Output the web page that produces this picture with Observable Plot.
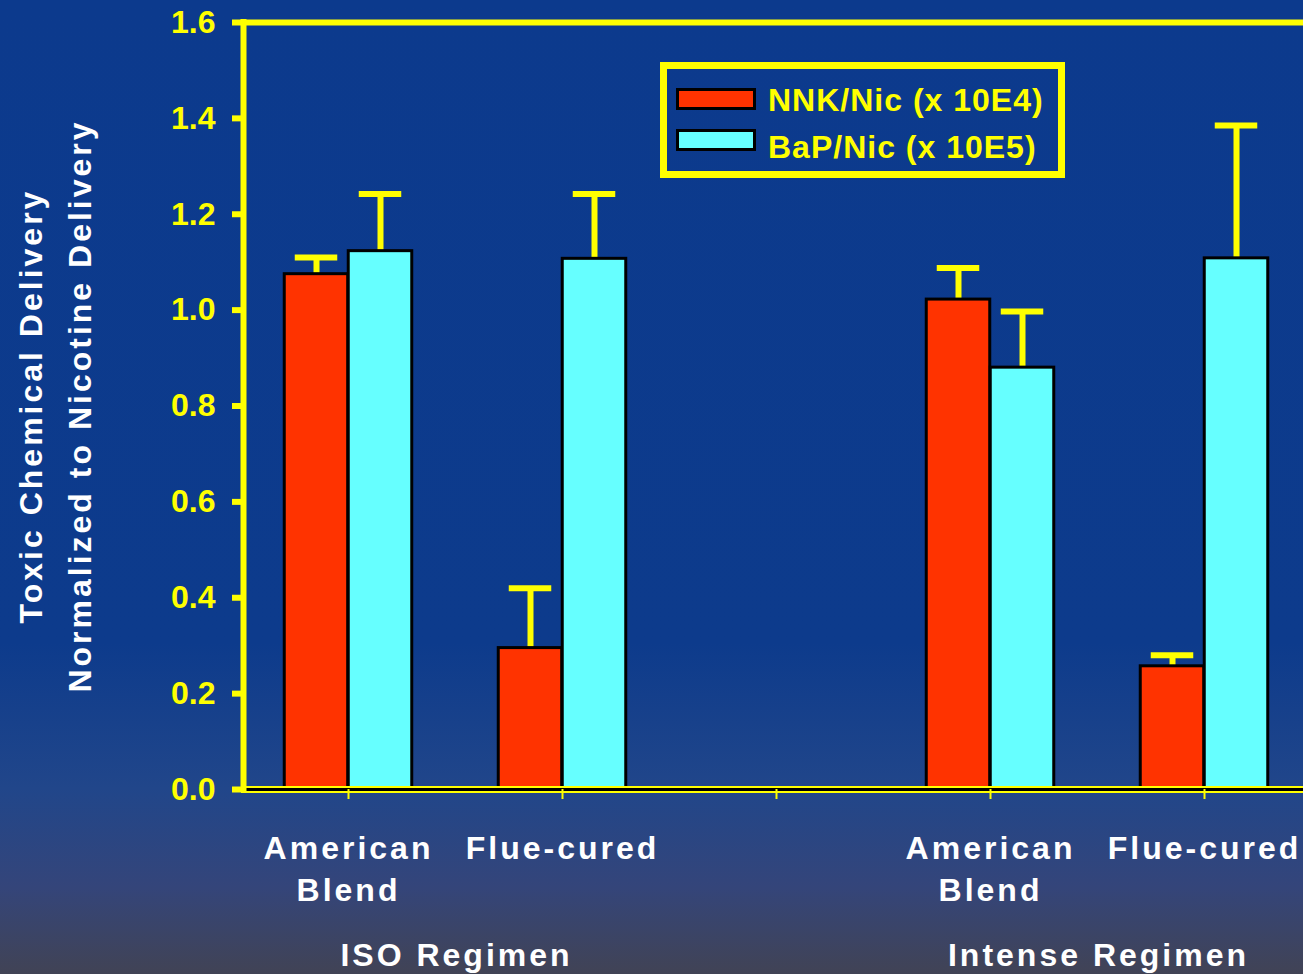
<!DOCTYPE html>
<html>
<head>
<meta charset="utf-8">
<script src="https://cdn.jsdelivr.net/npm/d3@7"></script>
<script src="https://cdn.jsdelivr.net/npm/@observablehq/plot@0.6"></script>
<style>
html, body { margin: 0; padding: 0; width: 1303px; height: 974px; overflow: hidden; }
body {
  background: linear-gradient(to bottom, #0c3a8d 0%, #0d3b8c 66%, #21468a 81%, #34457a 91%, #414355 100%);
  font-family: "Liberation Sans", Arial, sans-serif;
}
#chart { position: relative; width: 1303px; height: 974px; }
#chart svg { position: absolute; left: 0; top: 0; }
svg text { letter-spacing: 3px; }
g[aria-label="y-axis tick label"] text { letter-spacing: 0; }
.legend-box { position: absolute; left: 660px; top: 62px; width: 405px; height: 116px; box-sizing: border-box; border: 7px solid #ffff00; }
.legend-swatch { position: absolute; left: 676px; width: 80px; height: 22px; box-sizing: border-box; border: 3px solid #000; }
.legend-text { position: absolute; left: 768px; font-size: 32px; line-height: 32px; font-weight: bold; color: #ffff00; letter-spacing: 1px; white-space: pre; }
</style>
</head>
<body>
<div id="chart"></div>
<script>
// ---- data ----
const categoryKeys = ["iso-american", "iso-flue", "gap", "intense-american", "intense-flue"];
const categoryLabels = ["American\nBlend", "Flue-cured", "", "American\nBlend", "Flue-cured"];
const seriesNames = ["NNK/Nic (x 10E4)", "BaP/Nic (x 10E5)"];
const seriesColors = ["#ff3300", "#66ffff"];
const barCategories = ["iso-american", "iso-flue", "intense-american", "intense-flue"];
const nnkValues = [1.075, 0.295, 1.022, 0.257];
const nnkUpper = [1.110, 0.420, 1.088, 0.280];
const bapValues = [1.123, 1.107, 0.880, 1.108];
const bapUpper = [1.242, 1.242, 0.997, 1.385];
const groupNames = ["ISO Regimen", "Intense Regimen"];
const groupFirstCategory = ["iso-american", "intense-american"];
const yTicks = [0, 0.2, 0.4, 0.6, 0.8, 1.0, 1.2, 1.4, 1.6];
const yAxisTitle = "Toxic Chemical Delivery\nNormalized to Nicotine Delivery";

// ---- tables ----
const nnk = barCategories.map((c, i) => ({category: c, series: seriesNames[0], value: nnkValues[i], upper: nnkUpper[i]}));
const bap = barCategories.map((c, i) => ({category: c, series: seriesNames[1], value: bapValues[i], upper: bapUpper[i]}));
const groups = groupNames.map((g, i) => ({category: groupFirstCategory[i], name: g}));

const OFF = 32;
const bars = (data, dx) => Plot.barY(data, {x: "category", y: "value", fill: "series", stroke: "black", strokeWidth: 3, insetLeft: 75.25, insetRight: 75.25, dx});
const errLine = (data, dx) => Plot.ruleX(data, {x: "category", y1: "value", y2: "upper", stroke: "#ffff00", strokeWidth: 6, dx});
const errCap = (data, dx) => Plot.tickY(data, {x: "category", y: "upper", stroke: "#ffff00", strokeWidth: 6, insetLeft: 85.75, insetRight: 85.75, dx});

const plot = Plot.plot({
  width: 1303,
  height: 974,
  marginLeft: 241,
  marginRight: 0,
  marginTop: 22,
  marginBottom: 185,
  style: {background: "transparent", color: "white", fontFamily: "'Liberation Sans', Arial, sans-serif", fontWeight: "bold", overflow: "visible"},
  x: {domain: categoryKeys, range: [239, 1312], padding: 0},
  y: {domain: [0, 1.6]},
  color: {domain: seriesNames, range: seriesColors},
  marks: [
    errLine(nnk, -OFF), errLine(bap, OFF),
    errCap(nnk, -OFF), errCap(bap, OFF),
    bars(nnk, -OFF), bars(bap, OFF),
    Plot.ruleY([1.6], {stroke: "#ffff00", strokeWidth: 6}),
    Plot.ruleY([0], {stroke: "#ffff00", strokeWidth: 7}),
    Plot.ruleY([0], {stroke: "black", strokeWidth: 3}),
    Plot.ruleX([categoryKeys[0]], {x: d => d, y1: 0, y2: 1.6, dx: -105, stroke: "#ffff00", strokeWidth: 6, strokeLinecap: "square"}),
    Plot.axisY(yTicks, {tickSize: 9, tickPadding: 17, stroke: "#ffff00", strokeWidth: 6, fill: "#ffff00", fontSize: 32, fontWeight: "bold", tickFormat: d3.format(".1f"), label: null}),
    Plot.axisX({tickSize: 10, tickPadding: 30, stroke: "#ffff00", strokeWidth: 2, fill: "white", fontSize: 32, fontWeight: "bold", lineHeight: 1.3, tickFormat: k => categoryLabels[categoryKeys.indexOf(k)], label: null}),
    Plot.text(groups, {x: "category", text: "name", frameAnchor: "bottom", dx: 108, dy: 176, fill: "white", fontSize: 32, fontWeight: "bold"}),
    Plot.text([yAxisTitle], {text: d => d, frameAnchor: "left", textAnchor: "middle", rotate: -90, dx: -191, fill: "white", fontSize: 32, fontWeight: "bold", lineHeight: 1.56})
  ]
});
const chart = document.getElementById("chart");
chart.appendChild(plot);

// legend (HTML overlay)
const box = document.createElement("div");
box.className = "legend-box";
chart.appendChild(box);
const swatchTops = [88, 129];
const textTops = [84, 131];
seriesNames.forEach((name, i) => {
  const sw = document.createElement("div");
  sw.className = "legend-swatch";
  sw.style.top = swatchTops[i] + "px";
  sw.style.background = seriesColors[i];
  chart.appendChild(sw);
  const tx = document.createElement("div");
  tx.className = "legend-text";
  tx.style.top = textTops[i] + "px";
  tx.textContent = name;
  chart.appendChild(tx);
});
</script>
</body>
</html>
